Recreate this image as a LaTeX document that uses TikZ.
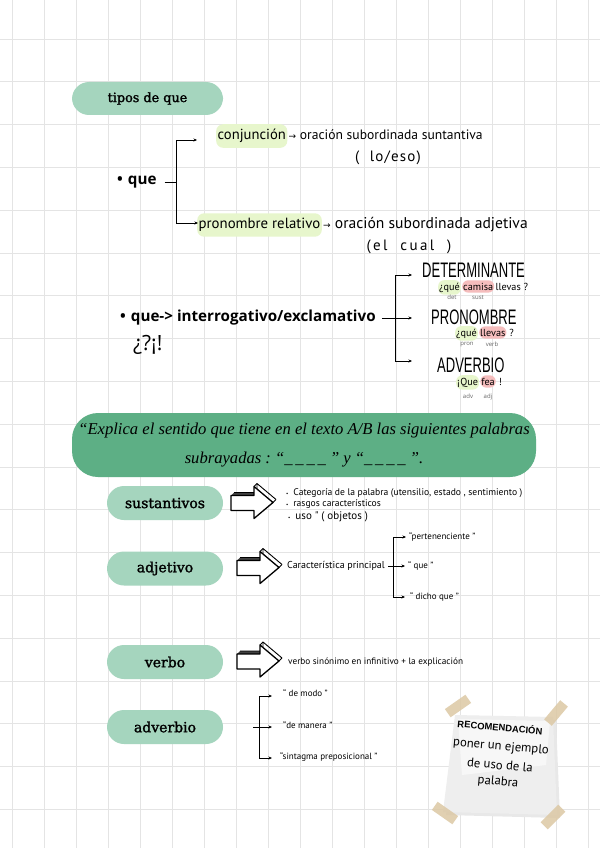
\documentclass[tikz,border=0pt]{standalone}
\usepackage{fontspec}
\usetikzlibrary{arrows.meta,shapes.geometric,calc}
\setmainfont{PT Sans}
\newfontfamily\slab[FakeBold=1.6]{DejaVu Serif}
\newfontfamily\osans{Open Sans}
\newfontfamily\hand{PT Sans}
\newfontfamily\bebas[FakeStretch=0.62]{Liberation Sans}
\newfontfamily\scriptf{Liberation Serif}
\newfontfamily\djv{DejaVu Sans}
\newfontfamily\arial{Liberation Sans}
\definecolor{gridc}{HTML}{E4E4E4}
\definecolor{pill}{HTML}{A5D5BE}
\definecolor{bigpill}{HTML}{5DAF85}
\definecolor{hlgreen}{HTML}{E7F6CC}
\definecolor{hlpink}{HTML}{F5BDBD}
\definecolor{paper}{HTML}{EEEEEE}
\definecolor{tape}{HTML}{DCC8A4}
\newcommand{\harr}{{\djv\fontsize{9}{9}\selectfont\raisebox{0.5pt}{→}}}
\tikzset{
 pillbox/.style={fill=pill, rounded corners=17pt, minimum width=116pt, minimum height=34pt, inner sep=0pt, font=\slab\fontsize{14}{16}\selectfont},
 bul/.style={anchor=west, inner sep=0pt, font=\osans\bfseries\fontsize{15.2}{17}\selectfont},
 hw/.style={anchor=west, inner sep=0pt, font=\hand\fontsize{14}{16}\selectfont},
 hl/.style={fill=hlgreen, rounded corners=7pt, inner xsep=1.5pt, inner ysep=5pt},
 exm/.style={anchor=base west, inner xsep=1pt, inner ysep=2.5pt, font=\hand\fontsize{10.2}{12}\selectfont},
 tagl/.style={inner sep=0pt, font=\osans\fontsize{6}{7}\selectfont, text=black!60},
 catw/.style={anchor=west, inner sep=0pt, font=\bebas\fontsize{21}{22}\selectfont},
 smt/.style={anchor=west, inner sep=0pt, font=\hand\fontsize{9}{10}\selectfont},
 brk/.style={line width=0.9pt, -{Stealth[length=3.5pt,width=3pt]}},
 brkline/.style={line width=0.9pt},
 gridline/.style={draw=gridc, line width=0.7pt},
 tapebox/.style={fill=tape, opacity=0.85, minimum width=25pt, minimum height=10pt, inner sep=0pt},
 notetxt/.style={inner sep=0pt, rotate=-5, font=\hand\fontsize{12.7}{14}\selectfont},
 blockarrow/.pic={
  \fill[black!75] (-22,-7) -- (1,-7) -- (4,-10) -- (-19,-10) -- cycle;
  \draw[line width=0.9pt, line join=round] (-19,-10) -- (4,-10) -- (4,-19) -- (23,-3);
  \draw[line width=0.9pt] (1,-16) -- (4,-19) (20,0) -- (23,-3);
  \draw[line width=1.3pt, fill=white, line join=round] (-22,-7) -- (1,-7) -- (1,-16) -- (20,0) -- (1,16) -- (1,8) -- (-22,8) -- cycle;
 }
}
\begin{document}
\begin{tikzpicture}[x=1pt,y=-1pt]
\useasboundingbox (0,0) rectangle (600,848);
\fill[white] (0,0) rectangle (600,848);
% grid
\foreach \gx in {12,44,...,588} \draw[gridline] (\gx,0) -- (\gx,848);
\foreach \gi in {0,...,19} {\pgfmathsetmacro{\gy}{39+\gi*42.8}\draw[gridline] (0,\gy) -- (600,\gy);}

% ---- tipos de que
\node[pillbox, minimum width=151pt, minimum height=33pt, font=\slab\fontsize{12.8}{15}\selectfont] (tipos) at (147.5,98.5) {tipos de que};

\node[bul] (que1) at (117,182) {•\hspace{5pt}que};
\coordinate (b1mid) at (176,182);
\coordinate (b1top) at (176,140);
\coordinate (b1bot) at (176,223);
\node[hw, hl, anchor=west, font=\hand\fontsize{14.6}{16}\selectfont] (conj) at (216,136) {conjunción};
\node[hw, anchor=base west, font=\hand\fontsize{13.6}{16}\selectfont] (conjr) at ([xshift=1pt]conj.base east) {\harr\ oración subordinada suntantiva};
\node[hw, anchor=center, font=\hand\fontsize{15}{16}\selectfont\addfontfeature{LetterSpace=8}] (loeso) at (388,158) {(\ \ lo/eso)};
\node[hw, hl, anchor=west, font=\hand\fontsize{14.8}{16}\selectfont] (prel) at (197,225) {pronombre relativo};
\node[hw, anchor=base west, font=\hand\fontsize{15.6}{16}\selectfont] (prelr) at ([xshift=1pt]prel.base east) {\harr\ oración subordinada adjetiva};
\node[hw, anchor=center, font=\hand\fontsize{15}{16}\selectfont\addfontfeature{LetterSpace=16}] (elcual) at (409,247) {(el\ \ cual\ \ )};
\draw[brkline] ([xshift=8pt]que1.east) -- (b1mid);
\draw[brkline] (b1top) -- (b1bot);
\draw[brk] (b1top) -- ([xshift=-19pt]conj.west |- b1top);
\draw[brk] (b1bot) -- ([xshift=1pt]prel.west |- b1bot);

% ---- interrogativo
\node[bul] (que2) at (120,318) {•\hspace{5pt}que-> interrogativo/exclamativo};
\node[anchor=west, inner sep=0pt, font=\osans\fontsize{21}{22}\selectfont] (signs) at (133,345) {¿?¡!};
\coordinate (b2top) at (395,275);
\coordinate (b2mid) at (395,318);
\coordinate (b2bot) at (395,361);
\node[catw] (det) at (422,270) {DETERMINANTE};
\node[catw] (pron) at (431,317) {PRONOMBRE};
\node[catw] (adv) at (437,365) {ADVERBIO};
\draw[brkline] ([xshift=6pt]que2.east) -- (b2mid);
\draw[brkline] (b2top) -- (b2bot);
\draw[brk] (b2top) -- ([xshift=-10pt]det.west |- b2top);
\draw[brk] (b2mid) -- ([xshift=-19pt]pron.west |- b2mid);
\draw[brk] (b2bot) -- ([xshift=-25pt]adv.west |- b2bot);

% examples
\node[exm, fill=hlgreen, rounded corners=6pt] (e1a) at (438,290) {¿qué};
\node[exm, fill=hlpink, rounded corners=6pt] (e1b) at ([xshift=1pt]e1a.base east) {camisa};
\node[exm] (e1c) at (e1b.base east) {llevas ?};
\node[tagl] (t1a) at (452,297.5) {det};
\node[tagl] (t1b) at (478,297.5) {sust};

\node[exm, fill=hlgreen, rounded corners=6pt] (e2a) at (455,336) {¿qué};
\node[exm, fill=hlpink, rounded corners=6pt] (e2b) at ([xshift=1pt]e2a.base east) {llevas};
\node[exm] (e2c) at (e2b.base east) {\,?};
\node[tagl] (t2a) at (467,344.5) {pron};
\node[tagl] (t2b) at (492,344.5) {verb};

\node[exm, fill=hlgreen, rounded corners=6pt] (e3a) at (456,385) {¡Que};
\node[exm, fill=hlpink, rounded corners=6pt] (e3b) at ([xshift=1pt]e3a.base east) {fea};
\node[exm] (e3c) at (e3b.base east) {\,!};
\node[tagl] (t3a) at (468,396.5) {adv};
\node[tagl] (t3b) at (488,396.5) {adj};

% ---- big pill
\node[fill=bigpill, rounded corners=26pt, minimum width=464pt, minimum height=64pt, inner sep=0pt, align=center,
  font=\scriptf\itshape\fontsize{16.6}{29}\selectfont] (explica) at (304,445)
  {“Explica el sentido que tiene en el texto A/B las siguientes palabras\\ subrayadas :\ “\_\,\_\,\_\,\_\ ” y “\_\,\_\,\_\,\_\ ”.};

% ---- sustantivos
\node[pillbox] (sust) at (165,503) {sustantivos};
\pic (arr1) at (253,502.5) {blockarrow};
\node[smt, font=\hand\fontsize{9.6}{11}\selectfont] (s1) at (286,493) {{\fontsize{5}{5}\selectfont\textbullet}\hspace{5pt}Categoría de la palabra (utensilio, estado , sentimiento )};
\node[smt, font=\hand\fontsize{9.6}{11}\selectfont] (s2) at (286,504.5) {{\fontsize{5}{5}\selectfont\textbullet}\hspace{5pt}rasgos característicos};
\node[smt, font=\hand\fontsize{11}{12}\selectfont] (s3) at (288,517) {{\fontsize{5}{5}\selectfont\textbullet}\hspace{5pt}uso " ( objetos )};

% ---- adjetivo
\node[pillbox] (adj) at (165,568.5) {adjetivo};
\pic (arr2) at (259,567.5) {blockarrow};
\node[smt, font=\hand\fontsize{10}{11}\selectfont] (carac) at (287,566) {Característica principal};
\coordinate (b3mid) at (393,566);
\coordinate (b3top) at (393,537);
\coordinate (b3bot) at (393,597);
\node[smt] (pert) at (409,537) {“pertenenciente ”};
\node[smt] (que3) at (408,566) {“ que ”};
\node[smt] (dicho) at (410,597) {“ dicho que ”};
\draw[brkline] ([xshift=3pt]carac.east) -- (b3mid);
\draw[brkline] (b3top) -- (b3bot);
\draw[brk] (b3top) -- ([xshift=-3pt]pert.west |- b3top);
\draw[brk] (b3mid) -- ([xshift=-3pt]que3.west |- b3mid);
\draw[brk] (b3bot) -- ([xshift=-5pt]dicho.west |- b3bot);

% ---- verbo
\node[pillbox] (verbo) at (165,662) {verbo};
\pic (arr3) at (259,661) {blockarrow};
\node[smt, font=\hand\fontsize{9.25}{10}\selectfont] (vsin) at (288,662) {verbo sinónimo en infinitivo + la explicación};

% ---- adverbio
\node[pillbox] (advb) at (165,727) {adverbio};
\coordinate (b4mid) at (259,727);
\coordinate (b4top) at (259,696);
\coordinate (b4bot) at (259,758);
\node[smt] (demodo) at (283,693) {“ de modo ”};
\node[smt] (demanera) at (283,725) {“de manera ”};
\node[smt] (sint) at (280,757) {“sintagma preposicional ”};
\draw[brkline] ([xshift=30pt]advb.east) -- (b4mid);
\draw[brkline] (b4top) -- (b4bot);
\draw[brk] (b4top) -- ([xshift=-11pt]demodo.west |- b4top);
\draw[brk] (b4mid) -- ([xshift=-11pt]demanera.west |- b4mid);
\draw[brk] (b4bot) -- ([xshift=-8pt]sint.west |- b4bot);

% ---- sticky note
\fill[black!9] (457,718) -- (556,720) -- (560,818) -- (446,815) -- cycle;
\fill[paper] (455,715) -- (553,717) -- (557,815) -- (443,812) -- cycle;
\fill[white, opacity=0.55] (458,719) -- (550,721) -- (546,765) -- (462,775) -- cycle;
\node[notetxt, font=\arial\bfseries\fontsize{9.4}{10}\selectfont] (reco) at (500,727) {RECOMENDACIÓN};
\node[notetxt] (n1) at (501,747) {poner un ejemplo};
\node[notetxt] (n2) at (500,765) {de uso de la};
\node[notetxt] (n3) at (498,782) {palabra};
\node[tapebox, rotate=35] (tp1) at (458,706) {};
\node[tapebox, rotate=50] (tp2) at (556,713) {};
\node[tapebox, rotate=-35] (tp3) at (445,813) {};
\node[tapebox, rotate=45] (tp4) at (553,817) {};
\end{tikzpicture}
\end{document}
